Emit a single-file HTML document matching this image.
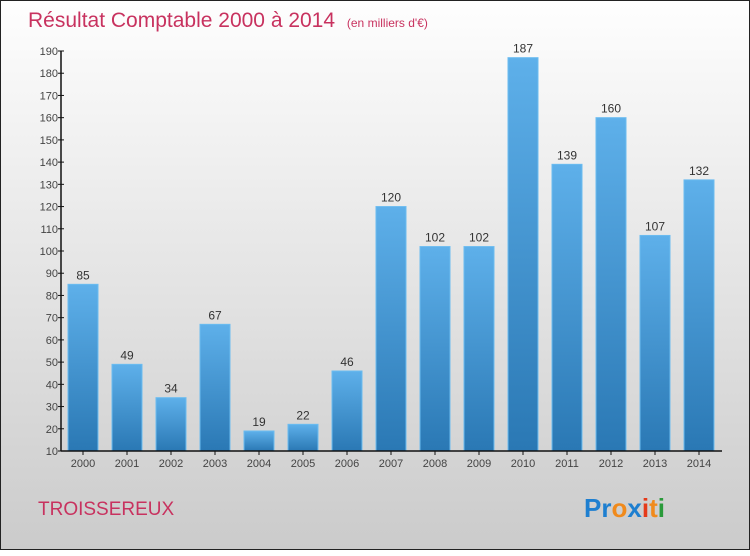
<!DOCTYPE html>
<html><head><meta charset="utf-8"><style>
body{margin:0;width:750px;height:550px;overflow:hidden;font-family:"Liberation Sans",sans-serif}
#frame{position:absolute;left:0;top:0;width:748px;height:548px;border:1px solid #222;background:linear-gradient(#fefefe,#cbcbcb)}
</style></head><body>
<div id="frame">
<svg width="750" height="550">
<defs><linearGradient id="bg" x1="0" y1="0" x2="0" y2="1"><stop offset="0" stop-color="#5eb0ea"/><stop offset="1" stop-color="#2a78b4"/></linearGradient></defs>
<text x="27" y="26" font-size="21" fill="#c8325f">Résultat Comptable 2000 à 2014 <tspan font-size="12" dx="6">(en milliers d'€)</tspan></text>
<g id="yaxis"></g>
<g id="bars"></g>
<g id="xaxis"></g>
<text x="37" y="514" font-size="19" fill="#c8325f">TROISSEREUX</text>
<g font-size="26" font-weight="bold">
<text x="583" y="516"><tspan fill="#1e7fd0">Pr</tspan><tspan fill="#f08a1c">o</tspan><tspan fill="#1e7fd0">x</tspan><tspan fill="#e53a1a">i</tspan><tspan fill="#f08a1c">t</tspan><tspan fill="#2a9a3a">i</tspan></text>
</g>
</svg></div>
<script>
const years=["2000","2001","2002","2003","2004","2005","2006","2007","2008","2009","2010","2011","2012","2013","2014"];
const values=[85,49,34,67,19,22,46,120,102,102,187,139,160,107,132];
const yTicks=[10,20,30,40,50,60,70,80,90,100,110,120,130,140,150,160,170,180,190];
const NS="http://www.w3.org/2000/svg";
const x0=60,slot=44,yMin=10,yMax=190,yTop=50,yBot=450;
function y(v){return yBot-(v-yMin)/(yMax-yMin)*(yBot-yTop);}
function xc(i){return x0+slot*(i+0.5);}
function mk(tag,attrs,parent){const e=document.createElementNS(NS,tag);for(const k in attrs)e.setAttribute(k,attrs[k]);parent.appendChild(e);return e;}
const ya=document.getElementById('yaxis'),xa=document.getElementById('xaxis'),bg=document.getElementById('bars');
mk('line',{x1:x0,y1:yTop,x2:x0,y2:yBot,stroke:'#111','stroke-width':1.5},ya);
yTicks.forEach(t=>{
 const l=mk('line',{x1:x0-3,y1:y(t),x2:x0+3,y2:y(t),stroke:'#111'},ya);
 
 
 const tx=mk('text',{x:x0-3,y:y(t)+4,'text-anchor':'end','font-size':11,fill:'#444'},ya);
 tx.textContent=t;
 
 
});
mk('line',{x1:x0,y1:yBot,x2:x0+slot*years.length+1,y2:yBot,stroke:'#111','stroke-width':1.5},xa);
years.forEach((yr,i)=>{
 const c=xc(i),v=values[i];
 const r=mk('rect',{x:c-15,y:y(v),width:30,height:yBot-y(v),fill:'url(#bg)',stroke:'#6bbcf0','stroke-width':1},bg);
 
 
 const vl=mk('text',{x:c,y:y(v)-5,'text-anchor':'middle','font-size':12,fill:'#333'},bg);
 vl.textContent=v;
 
 
 const tk=mk('line',{x1:c,y1:yBot,x2:c,y2:yBot+4,stroke:'#111'},xa);
 
 
 const xl=mk('text',{x:c,y:yBot+16,'text-anchor':'middle','font-size':11,fill:'#444'},xa);
 xl.textContent=yr;
 
 
});
</script>
</body></html>
